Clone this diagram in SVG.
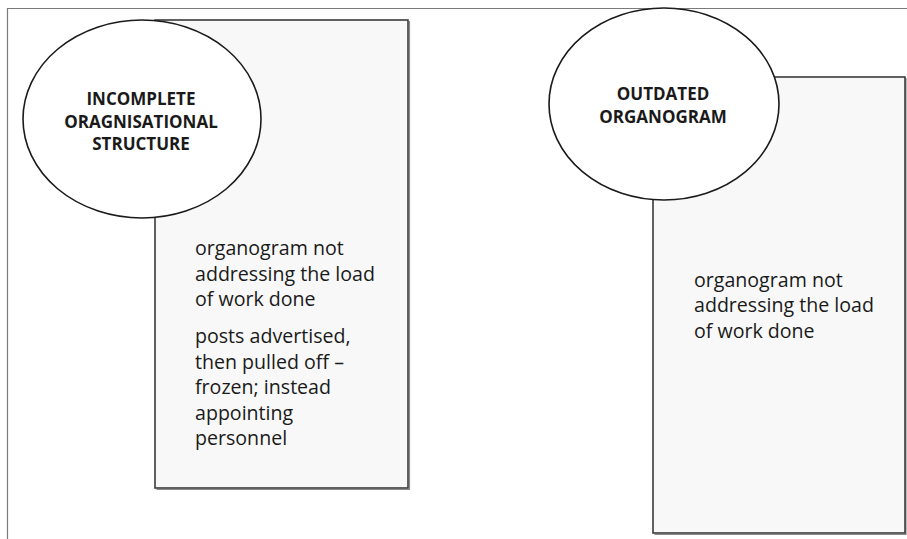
<svg xmlns="http://www.w3.org/2000/svg" width="907" height="539" viewBox="0 0 907 539">
  <style>
    .frame { stroke: #7a7a7a; stroke-width: 1.2; fill: none; }
    .box { fill: #f8f8f8; stroke: #3a3a3a; stroke-width: 1.6; }
    .shadow { fill: none; stroke: #8a8a8a; stroke-width: 1.2; }
    .bubble { fill: #ffffff; stroke: #1a1a1a; stroke-width: 1.6; }
    .title { font-family: "Open Sans", "Noto Sans", "Liberation Sans", sans-serif; font-weight: bold; font-size: 17px; fill: #1a1a1a; text-anchor: middle; }
    .body { font-family: "Open Sans", "Noto Sans", "Liberation Sans", sans-serif; font-size: 19.6px; fill: #1a1a1a; }
  </style>

  <!-- page frame: top rule and left rule -->
  <path class="frame" d="M7 8.5 H907 M7.5 8 V539"/>

  <g id="incomplete-structure">
    <path class="shadow" d="M156.5 489.5 H409.5 V21"/>
    <rect class="box" x="155" y="20" width="253" height="468"/>
    <ellipse class="bubble" cx="142" cy="119" rx="119" ry="99"/>
    <text class="title" x="141" y="105">INCOMPLETE</text>
    <text class="title" x="141" y="127.5">ORAGNISATIONAL</text>
    <text class="title" x="141" y="150">STRUCTURE</text>
    <text class="body">
      <tspan x="195" y="255">organogram not</tspan>
      <tspan x="195" y="280.5">addressing the load</tspan>
      <tspan x="195" y="306">of work done</tspan>
      <tspan x="195" y="343">posts advertised,</tspan>
      <tspan x="195" y="368.5">then pulled off –</tspan>
      <tspan x="195" y="394">frozen; instead</tspan>
      <tspan x="195" y="419.5">appointing</tspan>
      <tspan x="195" y="445">personnel</tspan>
    </text>
  </g>

  <g id="outdated-organogram">
    <path class="shadow" d="M654.5 534.5 H906 V78"/>
    <rect class="box" x="653" y="77" width="252" height="456"/>
    <ellipse class="bubble" cx="664" cy="104" rx="115" ry="96"/>
    <text class="title" x="663" y="99.5">OUTDATED</text>
    <text class="title" x="663" y="123">ORGANOGRAM</text>
    <text class="body">
      <tspan x="694" y="286.5">organogram not</tspan>
      <tspan x="694" y="312">addressing the load</tspan>
      <tspan x="694" y="337.5">of work done</tspan>
    </text>
  </g>

  <!-- no connectors between the two clusters -->
  <g id="connectors"/>
</svg>
